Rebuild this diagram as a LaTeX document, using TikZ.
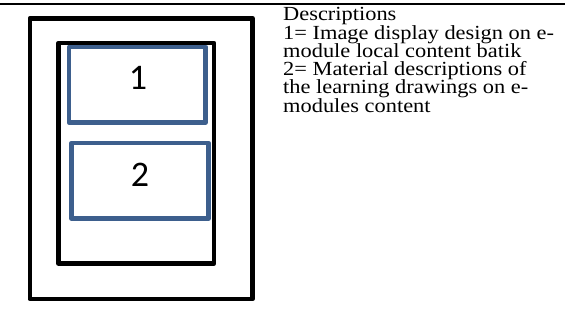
\documentclass[tikz,border=0pt]{standalone}
\usepackage{fontspec}
\setmainfont{Liberation Serif}[FakeStretch=1.12]
\newfontfamily\numfont{Carlito}
\usetikzlibrary{positioning}
\definecolor{boxblue}{HTML}{3D5F8D}

\begin{document}
\begin{tikzpicture}[x=1pt, y=-1pt]
		%%%%% START %%%%%
		\useasboundingbox (0, 0) rectangle (565, 324);
		
		\draw[line width=2.2pt] (0, 4) -- (565, 4);
		
		\draw[line width=4.6pt, line join=round] (29.8, 18.2) rectangle (252.5, 299);
		\draw[line width=4.6pt, line join=round] (58.5, 43) rectangle (214, 263.3);
		
		\draw[line width=4.6pt, line join=round, color=boxblue] (69, 46.8) rectangle (205.7, 122.5);
		\draw[line width=4.6pt, line join=round, color=boxblue] (71.5, 143) rectangle (208.5, 218.5);
		
		\node[font=\numfont\fontsize{36}{36}\selectfont] (one) at (138, 77.5) {1};
		\node[font=\numfont\fontsize{36}{36}\selectfont] (two) at (140, 175) {2};
		
		\node[anchor=base west, inner sep=0pt, align=left, font=\fontsize{20}{18.3}\selectfont] (desc) at (283, 112.2)
			{Descriptions\\
			1= Image display design on e-\\
			module local content batik\\
			2= Material descriptions of\\
			the learning drawings on e-\\
			modules content};
		
		%%%%% END %%%%%
	\end{tikzpicture}
\end{document}
